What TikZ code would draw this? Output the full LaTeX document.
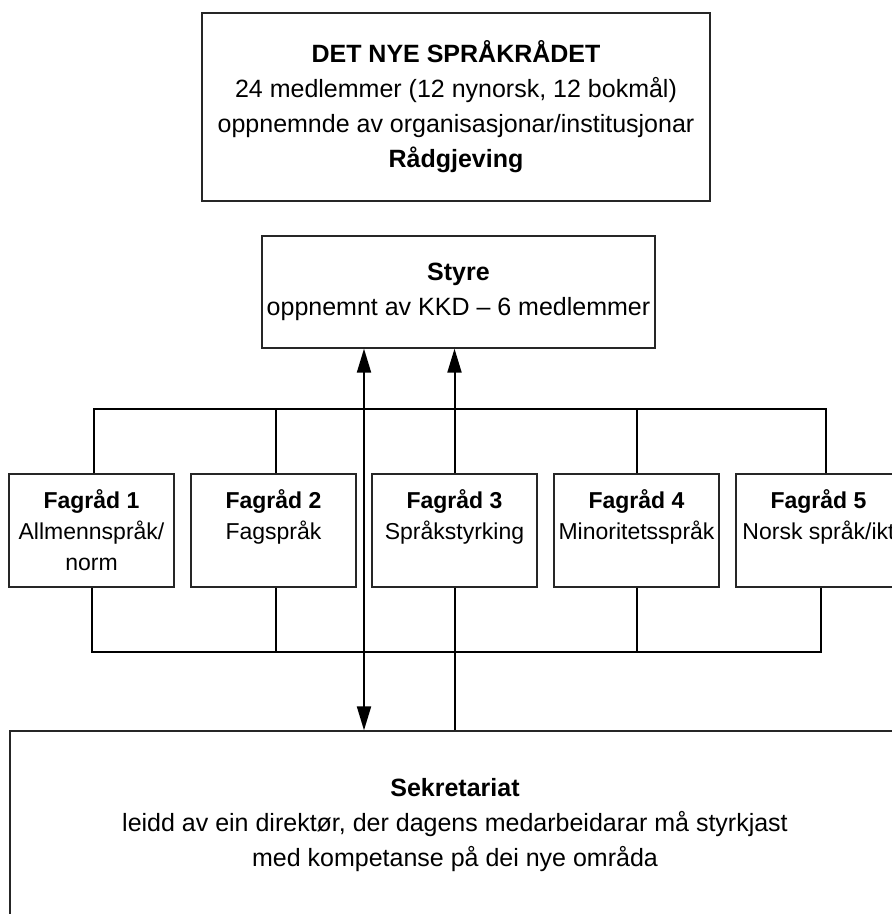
\documentclass[tikz,border=0pt]{standalone}
\usepackage{fontspec}
\setmainfont{Liberation Sans}
\usetikzlibrary{arrows.meta}
\tikzset{
  box/.style={draw=black!85, line width=1.3pt, rectangle, inner sep=0pt, align=center,
    font=\fontsize{25}{35}\selectfont},
  fbox/.style={box, minimum width=165pt, minimum height=113pt, font=\fontsize{23}{31}\selectfont},
  conn/.style={line width=2pt, black},
  arr/.style={conn, -{Triangle[length=24pt,width=14pt]}},
  darr/.style={conn, {Triangle[length=24pt,width=14pt]}-{Triangle[length=24pt,width=14pt]}}
}
\begin{document}
\begin{tikzpicture}[x=1pt,y=-1pt]
\clip (0,0) rectangle (892,914);
\fill[white] (0,0) rectangle (892,914);
\node[box, minimum width=508pt, minimum height=188pt] (raad) at (456,107)
  {\textbf{DET NYE SPRÅKRÅDET}\\24 medlemmer (12 nynorsk, 12 bokmål)\\oppnemnde av organisasjonar/institusjonar\\\textbf{Rådgjeving}};
\node[box, minimum width=393pt, minimum height=112pt] (styre) at (458.5,292)
  {\textbf{Styre}\\oppnemnt av KKD – 6 medlemmer};
\node[fbox] (f1) at (91.5,530.5) {\textbf{Fagråd 1}\\Allmennspråk/\\norm};
\node[fbox] (f2) at (273.5,530.5) {\textbf{Fagråd 2}\\Fagspråk\\\phantom{norm}};
\node[fbox] (f3) at (454.5,530.5) {\textbf{Fagråd 3}\\Språkstyrking\\\phantom{norm}};
\node[fbox] (f4) at (636.5,530.5) {\textbf{Fagråd 4}\\Minoritetsspråk\\\phantom{norm}};
\node[fbox] (f5) at (818.5,530.5) {\textbf{Fagråd 5}\\Norsk språk/ikt\\\phantom{norm}};
\node[box, minimum width=890pt, minimum height=188pt] (sek) at (455,825)
  {\textbf{Sekretariat}\\leidd av ein direktør, der dagens medarbeidarar må styrkjast\\med kompetanse på dei nye områda};
\coordinate (ub) at (0,409);
\coordinate (lb) at (0,652);
\coordinate (dx) at (364,0);
% upper bus
\draw[conn] ([xshift=2.5pt]f1.north) |- ([xshift=7.5pt]f5.north |- ub) -- ([xshift=7.5pt]f5.north);
\draw[conn] ([xshift=2.5pt]f2.north) -- ([xshift=2.5pt]f2.north |- ub);
\draw[conn] (f4.north) -- (f4.north |- ub);
% lower bus
\draw[conn] (f1.south) |- ([xshift=2.5pt]f5.south |- lb) -- ([xshift=2.5pt]f5.south);
\draw[conn] ([xshift=2.5pt]f2.south) -- ([xshift=2.5pt]f2.south |- lb);
\draw[conn] (f4.south) -- (f4.south |- lb);
% arrows
\draw[darr] (styre.south -| dx) -- (sek.north -| dx);
\draw[conn] (sek.north -| f3.south) -- (f3.south);
\draw[arr] (f3.north) -- (styre.south -| f3.north);
\end{tikzpicture}
\end{document}
